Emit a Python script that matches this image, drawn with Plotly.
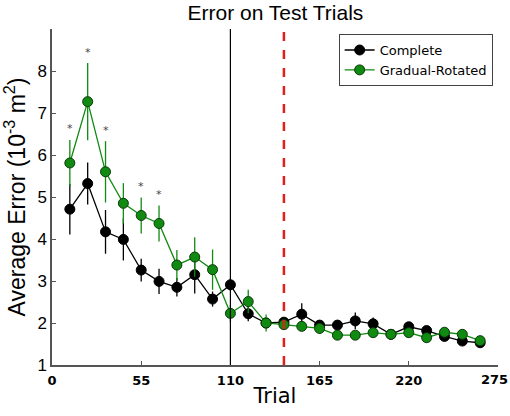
import plotly.graph_objects as go

trials = [11, 22, 33, 44, 55, 66, 77, 88, 99, 110, 121, 132, 143, 154, 165, 176, 187, 198, 209, 220, 231, 242, 253, 264]
complete = [4.71, 5.32, 4.17, 3.99, 3.26, 2.99, 2.85, 3.15, 2.57, 2.91, 2.22, 2.00, 2.02, 2.21, 1.95, 1.95, 2.05, 1.98, 1.73, 1.91, 1.82, 1.68, 1.57, 1.53]
complete_err = [0.6, 0.5, 0.52, 0.5, 0.27, 0.3, 0.22, 0.45, 0.18, 0.15, 0.18, 0.1, 0.1, 0.26, 0.1, 0.1, 0.2, 0.15, 0.08, 0.1, 0.1, 0.08, 0.07, 0.07]
gradual = [5.81, 7.27, 5.60, 4.85, 4.56, 4.37, 3.38, 3.57, 3.27, 2.23, 2.51, 2.00, 1.96, 1.92, 1.87, 1.71, 1.71, 1.77, 1.73, 1.77, 1.65, 1.78, 1.73, 1.58]
gradual_err = [0.55, 0.92, 0.73, 0.48, 0.43, 0.43, 0.36, 0.47, 0.48, 0.2, 0.28, 0.2, 0.12, 0.1, 0.12, 0.08, 0.08, 0.08, 0.08, 0.08, 0.1, 0.08, 0.08, 0.07]
sig_idx = [0, 1, 2, 4, 5]
x_ticks = [0, 55, 110, 165, 220, 275]
y_ticks = [1, 2, 3, 4, 5, 6, 7, 8]
block_end = 110
switch_trial = 143

GREEN = "#108a10"
SANS = "Liberation Sans"
DJ = "DejaVu Sans"

fig = go.Figure()
fig.add_trace(go.Scatter(
    x=trials, y=complete, mode="lines+markers", name="Complete",
    line=dict(color="black", width=1.3),
    marker=dict(color="black", size=10, line=dict(color="black", width=1)),
    error_y=dict(type="data", array=complete_err, color="black", thickness=1.3, width=0),
))
fig.add_trace(go.Scatter(
    x=trials, y=gradual, mode="lines+markers", name="Gradual-Rotated",
    line=dict(color=GREEN, width=1.3),
    marker=dict(color=GREEN, size=10, line=dict(color="#0a3a0a", width=1)),
    error_y=dict(type="data", array=gradual_err, color=GREEN, thickness=1.3, width=0),
))

for i in sig_idx:
    fig.add_annotation(x=trials[i], y=gradual[i] + gradual_err[i], text="*",
                       showarrow=False, yshift=11, font=dict(size=11, color="#444444", family=DJ))

fig.add_shape(type="line", x0=block_end, x1=block_end, y0=0, y1=1, yref="paper",
              line=dict(color="black", width=1.2))
fig.add_shape(type="line", x0=switch_trial, x1=switch_trial, y0=0, y1=1, yref="paper",
              line=dict(color="#e0201a", width=2.5, dash="dash"))

# last x tick label, nudged left so it stays inside the picture
fig.add_annotation(x=x_ticks[-1], y=0, xref="x", yref="paper", yanchor="top",
                   text="<b>%d</b>" % x_ticks[-1], showarrow=False, yshift=-5, xshift=-4,
                   font=dict(size=13, family=DJ, color="black"))

fig.update_layout(
    width=510, height=416,
    margin=dict(l=52, r=12, t=29, b=43),
    paper_bgcolor="white", plot_bgcolor="white",
    font=dict(family=DJ, color="black"),
    title=dict(text="Error on Test Trials", x=0.54, xanchor="center", y=0.97, yanchor="middle",
               font=dict(size=21, family=SANS)),
    showlegend=True,
    legend=dict(x=0.988, y=0.985, xanchor="right", yanchor="top",
                bordercolor="#444444", borderwidth=1, bgcolor="white",
                font=dict(size=13), tracegroupgap=0, itemwidth=30),
    xaxis=dict(range=[0, 275], tickvals=x_ticks[:-1], showgrid=False, zeroline=False,
               showline=True, linecolor="#555555", linewidth=1.5,
               ticks="inside", ticklen=4, tickcolor="#555555", ticklabelstandoff=3,
               tickfont=dict(size=13, family=DJ, weight="bold"),
               title=dict(text="Trial", font=dict(size=21, family=DJ), standoff=1)),
    yaxis=dict(range=[1, 9], tickvals=y_ticks, showgrid=False, zeroline=False,
               showline=True, linecolor="#555555", linewidth=1.5,
               ticks="inside", ticklen=4, tickcolor="#555555",
               tickfont=dict(size=17, family=SANS),
               title=dict(text="Average Error (10<sup>-3</sup> m<sup>2</sup>)", font=dict(size=23, family=SANS), standoff=6)),
)

fig.write_html("out.html")
